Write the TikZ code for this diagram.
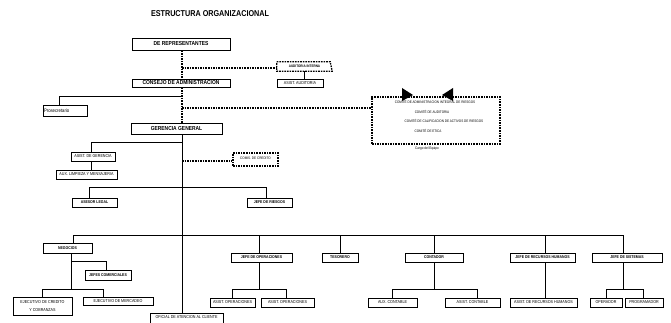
\documentclass[tikz,border=0pt]{standalone}
\usepackage{fontspec}
\setmainfont{Liberation Sans}
\newfontfamily\nar[FakeStretch=0.85]{Liberation Sans}
\usetikzlibrary{shadows}
\tikzset{
  box/.style={draw, line width=0.9pt, fill=white, inner sep=0pt,
    font=\nar\fontsize{4.3}{4.8}\selectfont,
    drop shadow={shadow xshift=1.3pt, shadow yshift=-1.3pt, fill=black, opacity=1}},
  bbox/.style={box, font=\nar\bfseries\fontsize{4.1}{4.6}\selectfont},
  bigbox/.style={box, font=\nar\bfseries\fontsize{5.8}{6.5}\selectfont},
  dashbox/.style={draw, line width=1.3pt, dash pattern=on 1.6pt off 1pt, inner sep=0pt, fill=white},
  conn/.style={line width=1pt},
  dconn/.style={line width=1.3pt, dash pattern=on 1.6pt off 1pt},
  lbl/.style={inner sep=0pt, font=\nar\fontsize{3.6}{4}\selectfont},
}
\begin{document}
\begin{tikzpicture}[x=1pt,y=-1pt]
\useasboundingbox[fill=white] (0,0) rectangle (671,323);

\node[inner sep=0pt, font=\nar\bfseries\fontsize{8.5}{9}\selectfont] (title) at (210,14) {ESTRUCTURA ORGANIZACIONAL};

% top levels
\node[bigbox, minimum width=98pt, minimum height=12pt] (rep) at (181,44) {\raisebox{-2pt}{DE REPRESENTANTES}};
\node[bigbox, minimum width=98pt, minimum height=8pt] (consejo) at (181,83) {CONSEJO DE ADMINISTRACION};
\node[inner sep=0pt, minimum width=55pt, minimum height=9pt, font=\nar\bfseries\fontsize{3.6}{4}\selectfont] (audi) at (304.5,66.5) {AUDITORIA INTERNA\hspace{12pt}};
\draw[dconn] (audi.north west) -- ([xshift=-2pt]audi.north east) -- (audi.south east) -- (audi.south west) -- cycle;
\node[box, minimum width=46pt, minimum height=8pt] (asistaud) at (300,83) {ASIST. AUDITORIA};
\node[box, minimum width=44pt, minimum height=11pt, text width=42pt, align=left, font=\nar\fontsize{5}{5.5}\selectfont] (prosec) at (65,110.5) {Prosecretario};
\node[bigbox, minimum width=91pt, minimum height=11pt] (gerencia) at (176.5,128.5) {GERENCIA GENERAL};

% comite box
\node[dashbox, fill=none, minimum width=128pt, minimum height=47pt] (comite) at (436,120.5) {};
\fill (402,88) -- (413,95) -- (402,101) -- cycle;
\fill (453,88) -- (442,95) -- (453,101) -- cycle;
\node[lbl] (c1) at (435,102) {COMITÉ DE ADMINISTRACION INTEGRAL DE RIESGOS};
\node[lbl] (c2) at (432,112) {COMITÉ DE AUDITORIA};
\node[lbl] (c3) at (444,120.5) {COMITÉ DE CALIFICACION DE ACTIVOS DE RIESGOS};
\node[lbl] (c4) at (428,131) {COMITÉ DE ETICA};
\node[lbl] (c5) at (427,148.5) {Cargo del Equipo};

% gerencia staff
\node[box, minimum width=44pt, minimum height=9pt] (asistger) at (93,156.5) {ASIST. DE GERENCIA};
\node[box, minimum width=61pt, minimum height=9pt] (aux) at (86.5,174.5) {AUX. LIMPIEZA Y MENSAJERIA};
\node[dashbox, minimum width=45pt, minimum height=13pt, font=\nar\fontsize{3.6}{4}\selectfont] (comis) at (255.5,159.5) {\raisebox{3pt}{COMIS. DE CREDITO}};
\node[bbox, minimum width=45pt, minimum height=9pt] (asesor) at (94.5,202.5) {ASESOR LEGAL};
\node[bbox, minimum width=45pt, minimum height=9pt] (riesgos) at (269.5,202.5) {JEFE DE RIESGOS};

% main level
\node[bbox, minimum width=49pt, minimum height=10pt] (negocios) at (67.5,248) {NEGOCIOS};
\node[bbox, minimum width=46pt, minimum height=10pt] (jefcom) at (108,275) {JEFES COMERCIALES};
\node[box, minimum width=59pt, minimum height=18pt, align=center] (ejcred) at (42.5,306) {EJECUTIVO DE CREDITO\\[3pt]Y COBRANZAS};
\node[box, minimum width=70pt, minimum height=8pt] (ejmerc) at (118,301) {EJECUTIVO DE MERCADEO};
\node[box, minimum width=73pt, minimum height=10pt] (oficial) at (186.5,318) {\raisebox{1.5pt}{OFICIAL DE ATENCION AL CLIENTE}};

\node[bbox, minimum width=61pt, minimum height=9pt] (jefop) at (261.5,257.5) {JEFE DE OPERACIONES};
\node[box, minimum width=45pt, minimum height=9pt] (asop1) at (232.5,302.5) {ASIST. OPERACIONES};
\node[box, minimum width=53pt, minimum height=9pt] (asop2) at (287.5,302.5) {ASIST. OPERACIONES};
\node[bbox, minimum width=36pt, minimum height=9pt] (tesorero) at (340,257.5) {TESORERO};
\node[bbox, minimum width=58pt, minimum height=9pt] (contador) at (434,257.5) {CONTADOR};
\node[box, minimum width=49pt, minimum height=9pt] (auxcont) at (392.5,302.5) {AUX. CONTABLE};
\node[box, minimum width=55pt, minimum height=9pt] (asistcont) at (472.5,302.5) {ASIST. CONTABLE};
\node[bbox, minimum width=65pt, minimum height=9pt] (jrrhh) at (542.5,257.5) {JEFE DE RECURSOS HUMANOS};
\node[box, minimum width=67pt, minimum height=9pt] (asrrhh) at (543.5,302.5) {ASIST. DE RECURSOS HUMANOS};
\node[bbox, minimum width=70pt, minimum height=9pt] (jsis) at (627,257.5) {JEFE DE SISTEMAS};
\node[box, minimum width=32pt, minimum height=9pt] (operador) at (606,302.5) {OPERADOR};
\node[box, minimum width=38pt, minimum height=9pt] (program) at (644,302.5) {PROGRAMADOR};

% junction coordinates on trunk
\coordinate (ja) at (182,68);
\coordinate (jp) at (182,97);
\coordinate (jc) at (182,108);
\coordinate (jg) at (182,143);
\coordinate (jcr) at (182,161);
\coordinate (jl) at (182,187);
\coordinate (jm) at (182,235);
\coordinate (jn1) at (71,261);
\coordinate (jn2) at (71,289);
\coordinate (jo) at (261.5,289);
\coordinate (jk) at (434,289);
\coordinate (js) at (627,289);

% trunk
\draw[dconn] (rep.south -| ja) -- (consejo.north -| ja);
\draw[dconn] (consejo.south -| ja) -- (gerencia.north -| ja);
\draw[conn] (gerencia.south -| ja) -- (oficial.north -| ja);

% dashed staff lines
\draw[dconn] (ja) -- (ja -| audi.west);
\draw[conn] (audi.south) -- (audi.south |- asistaud.north);
\draw[dconn] (jc) -- (jc -| comite.west);
\draw[dconn] (jcr) -- (jcr -| comis.west);

% solid staff lines
\draw[conn] (jp) -| ([xshift=-6pt]prosec.north);
\draw[conn] (jg) -| ([xshift=-2pt]asistger.north);
\draw[conn] ([xshift=-2pt]asistger.south) -- ([xshift=-2pt]asistger.south |- aux.north);
\draw[conn] (jl) -| ([xshift=-5pt]asesor.north);
\draw[conn] (jl) -| ([xshift=-3.5pt]riesgos.north);

% main level bar
\draw[conn] ([xshift=5.5pt]negocios.north) |- (jm);
\draw[conn] (jm) -| ([xshift=-4pt]jsis.north);
\draw[conn] ([xshift=-2.5pt]jefop.north) -- ([xshift=-2.5pt]jefop.north |- jm);
\draw[conn] (tesorero.north) -- (tesorero.north |- jm);
\draw[conn] (contador.north) -- (contador.north |- jm);
\draw[conn] ([xshift=2.5pt]jrrhh.north) -- ([xshift=2.5pt]jrrhh.north |- jm);

% negocios subtree
\draw[conn] (negocios.south -| jn1) -- (jn2);
\draw[conn] (jn1) -| ([xshift=-2pt]jefcom.north);
\draw[conn] (jn2) -| (ejcred.north);
\draw[conn] (jn2) -| ([xshift=-15pt]ejmerc.north);

% operaciones subtree
\draw[conn] ([xshift=-2.5pt]jefop.south) -- ([xshift=-2.5pt]jo);
\draw[conn] ([xshift=-2.5pt]jo) -| (asop1.north);
\draw[conn] ([xshift=-2.5pt]jo) -| ([xshift=-1.5pt]asop2.north);

% contador subtree
\draw[conn] (contador.south) -- (jk);
\draw[conn] (jk) -| (auxcont.north);
\draw[conn] (jk) -| ([xshift=4.5pt]asistcont.north);

% rrhh
\draw[conn] ([xshift=2.5pt]jrrhh.south) -- ([xshift=2.5pt]jrrhh.south |- asrrhh.north);

% sistemas subtree
\draw[conn] ([xshift=-4pt]jsis.south) -- ([xshift=-4pt]js);
\draw[conn] ([xshift=-4pt]js) -| (operador.north);
\draw[conn] ([xshift=-4pt]js) -| ([xshift=-1pt]program.north);
\end{tikzpicture}
\end{document}
